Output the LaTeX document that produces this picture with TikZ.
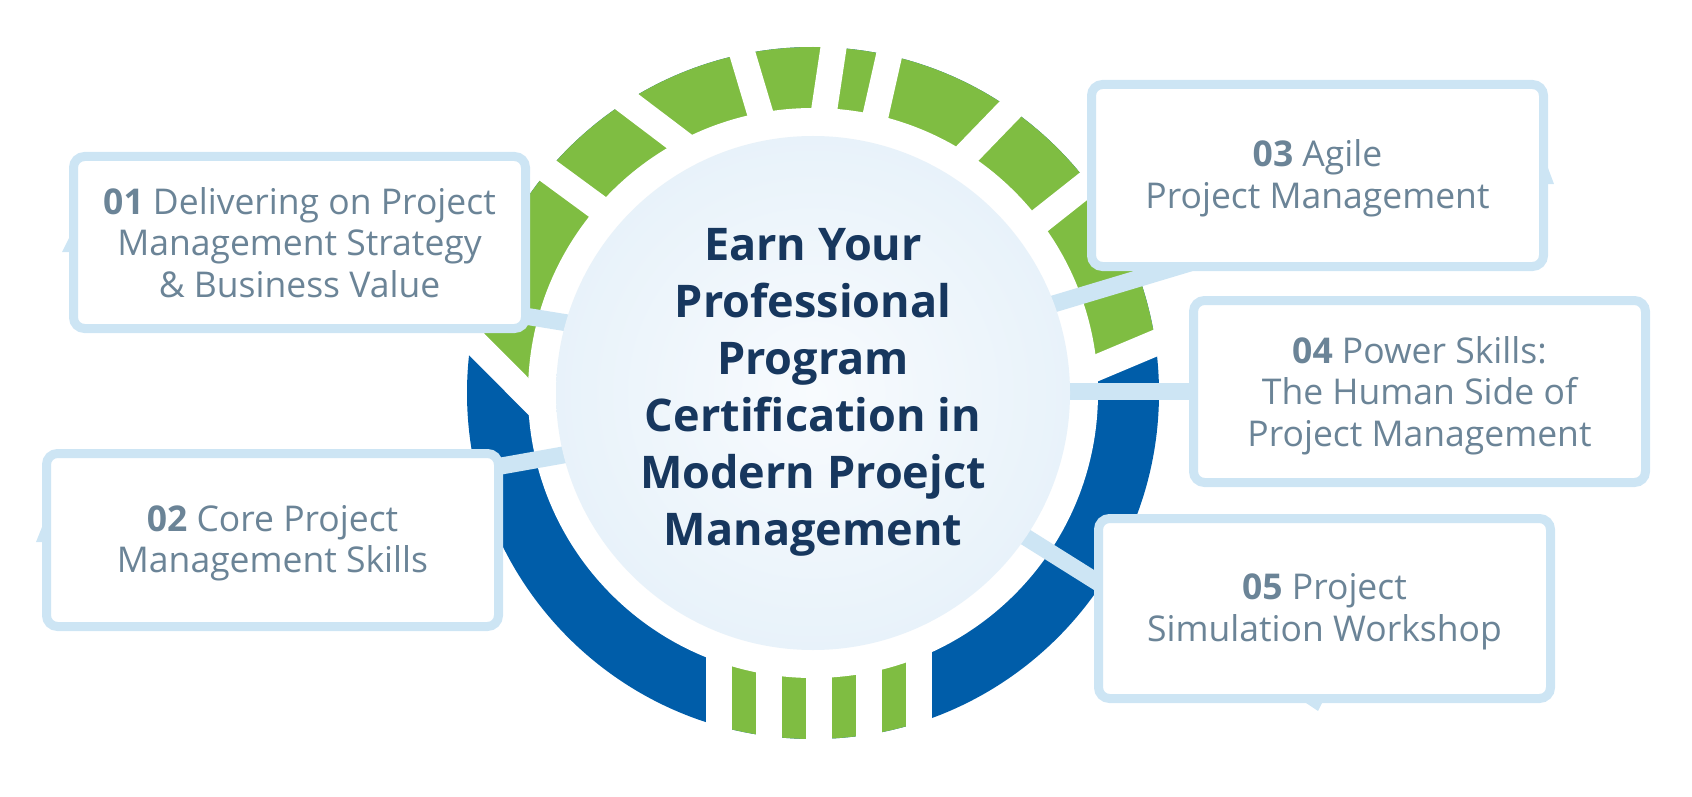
\documentclass[tikz,border=0pt]{standalone}
\usepackage{fontspec}
\setmainfont{Open Sans}
\usetikzlibrary{calc}
\definecolor{ringgreen}{HTML}{7FBD42}
\definecolor{ringblue}{HTML}{005DA9}
\definecolor{pale}{HTML}{CDE5F4}
\definecolor{boxtext}{HTML}{6B8497}
\definecolor{navy}{HTML}{17375E}
\definecolor{circedge}{HTML}{D8E9F5}
\definecolor{circmid}{HTML}{F8FBFE}
\pgfdeclareradialshading{circshade}{\pgfpoint{0bp}{0bp}}{color(0bp)=(circmid); color(50bp)=(circedge)}
\begin{document}
\begin{tikzpicture}[x=1pt,y=-1pt,
  gapline/.style={draw=white,line width=26pt,line cap=butt},
  conn/.style={draw=pale,line width=17pt,line cap=butt},
  infobox/.style={draw=pale,fill=white,line width=9pt,rounded corners=11pt,
    minimum width=452pt,inner sep=0pt},
  boxlabel/.style={align=center,text=boxtext,inner sep=0pt,
    font=\fontsize{35.5}{41.5}\selectfont},
  hubtitle/.style={align=center,text=navy,inner sep=0pt,
    font=\fontsize{45}{57}\selectfont\bfseries},
  tail/.style={fill=pale}]
\useasboundingbox (0,0) rectangle (1692,797);
\coordinate (C) at (813,393);
% ring
\fill[ringblue] (C) circle[radius=346];
\coordinate (Por) at ($(C)+(-8.3:346)$);
\coordinate (Pir) at ($(C)+(-5.1:285)$);
\coordinate (Pol) at ($(C)+(-171:346)$);
\coordinate (Pil) at ($(C)+(-180.6:285)$);
\coordinate (E1) at ($(Por)!-1!(Pir)$);
\coordinate (I1) at ($(Pir)!-1!(Por)$);
\coordinate (E2) at ($(Pol)!-1!(Pil)$);
\coordinate (I2) at ($(Pil)!-1!(Pol)$);
\begin{scope}
  \clip (C) circle[radius=346];
  \fill[ringgreen] (E1) -- (1300,-300) -- (300,-300) -- (E2) -- (I2) -- (I1) -- cycle;
  \fill[ringgreen] (719,600) rectangle (919,800);
\end{scope}
\fill[white] (C) circle[radius=285];
% gaps
\foreach \a/\b [count=\i] in {8.3/5.1, 37.4/37.2, 55.2/57.2, 77.3/77.3, 86.6/87.7, 101.75/100.7, 122.6/118.0, 140.0/139.2, 171/180.6}{
  \coordinate (go\i) at ($(C)+(-\a:346)$);
  \coordinate (gi\i) at ($(C)+(-\b:285)$);
  \draw[gapline] ($(go\i)!-0.5!(gi\i)$) -- ($(gi\i)!-0.5!(go\i)$);
}
\foreach \x in {719,769,819,869,919}{
  \draw[gapline] (\x,610) -- (\x,770);
}
% connectors
\coordinate (c1a) at (500,312); \coordinate (c1b) at (580,325);
\coordinate (c2a) at (490,468); \coordinate (c2b) at (580,452);
\coordinate (c3a) at (1020,314); \coordinate (c3b) at (1190,263);
\coordinate (c4a) at (1040,391); \coordinate (c4b) at (1200,391);
\coordinate (c5a) at (1000,521); \coordinate (c5b) at (1110,590);
\draw[conn] (c1a) -- (c1b);
\draw[conn] (c2a) -- (c2b);
\draw[conn] (c3a) -- (c3b);
\draw[conn] (c4a) -- (c4b);
\draw[conn] (c5a) -- (c5b);
% hub
\node[circle,minimum size=514pt,inner sep=0pt,shade,shading=circshade] (hub) at (C) {};
\node[hubtitle] (title) at (813,392) {Earn Your\\Professional\\Program\\Certification in\\Modern Proejct\\Management};
% tails
\fill[tail] (69,238) -- (62,252) -- (69,252) -- cycle;
\fill[tail] (42,527) -- (36,542) -- (42,542) -- cycle;
\fill[tail] (1548,168) -- (1554,184) -- (1548,184) -- cycle;
\fill[tail] (1306,703) -- (1322,703) -- (1318,711) -- cycle;
% boxes
\node[infobox,minimum height=172pt] (b1) at (299.5,242.5) {};
\node[infobox,minimum height=173pt] (b2) at (272.5,540) {};
\node[infobox,minimum height=182pt] (b3) at (1317.5,175.5) {};
\node[infobox,minimum height=182pt] (b4) at (1419.5,391.5) {};
\node[infobox,minimum height=180pt] (b5) at (1324.5,608.5) {};
\node[boxlabel] (l1) at ($(b1.center)+(0,0)$) {\textbf{01} Delivering on Project\\Management Strategy\\\& Business Value};
\node[boxlabel] (l2) at ($(b2.center)+(0,3)$) {\textbf{02} Core Project\\Management Skills};
\node[boxlabel] (l3) at ($(b3.center)+(0,3)$) {\textbf{03} Agile\\Project Management};
\node[boxlabel] (l4) at ($(b4.center)+(0,4)$) {\textbf{04} Power Skills:\\The Human Side of\\Project Management};
\node[boxlabel] (l5) at ($(b5.center)+(0,3)$) {\textbf{05} Project\\Simulation Workshop};
\end{tikzpicture}
\end{document}
